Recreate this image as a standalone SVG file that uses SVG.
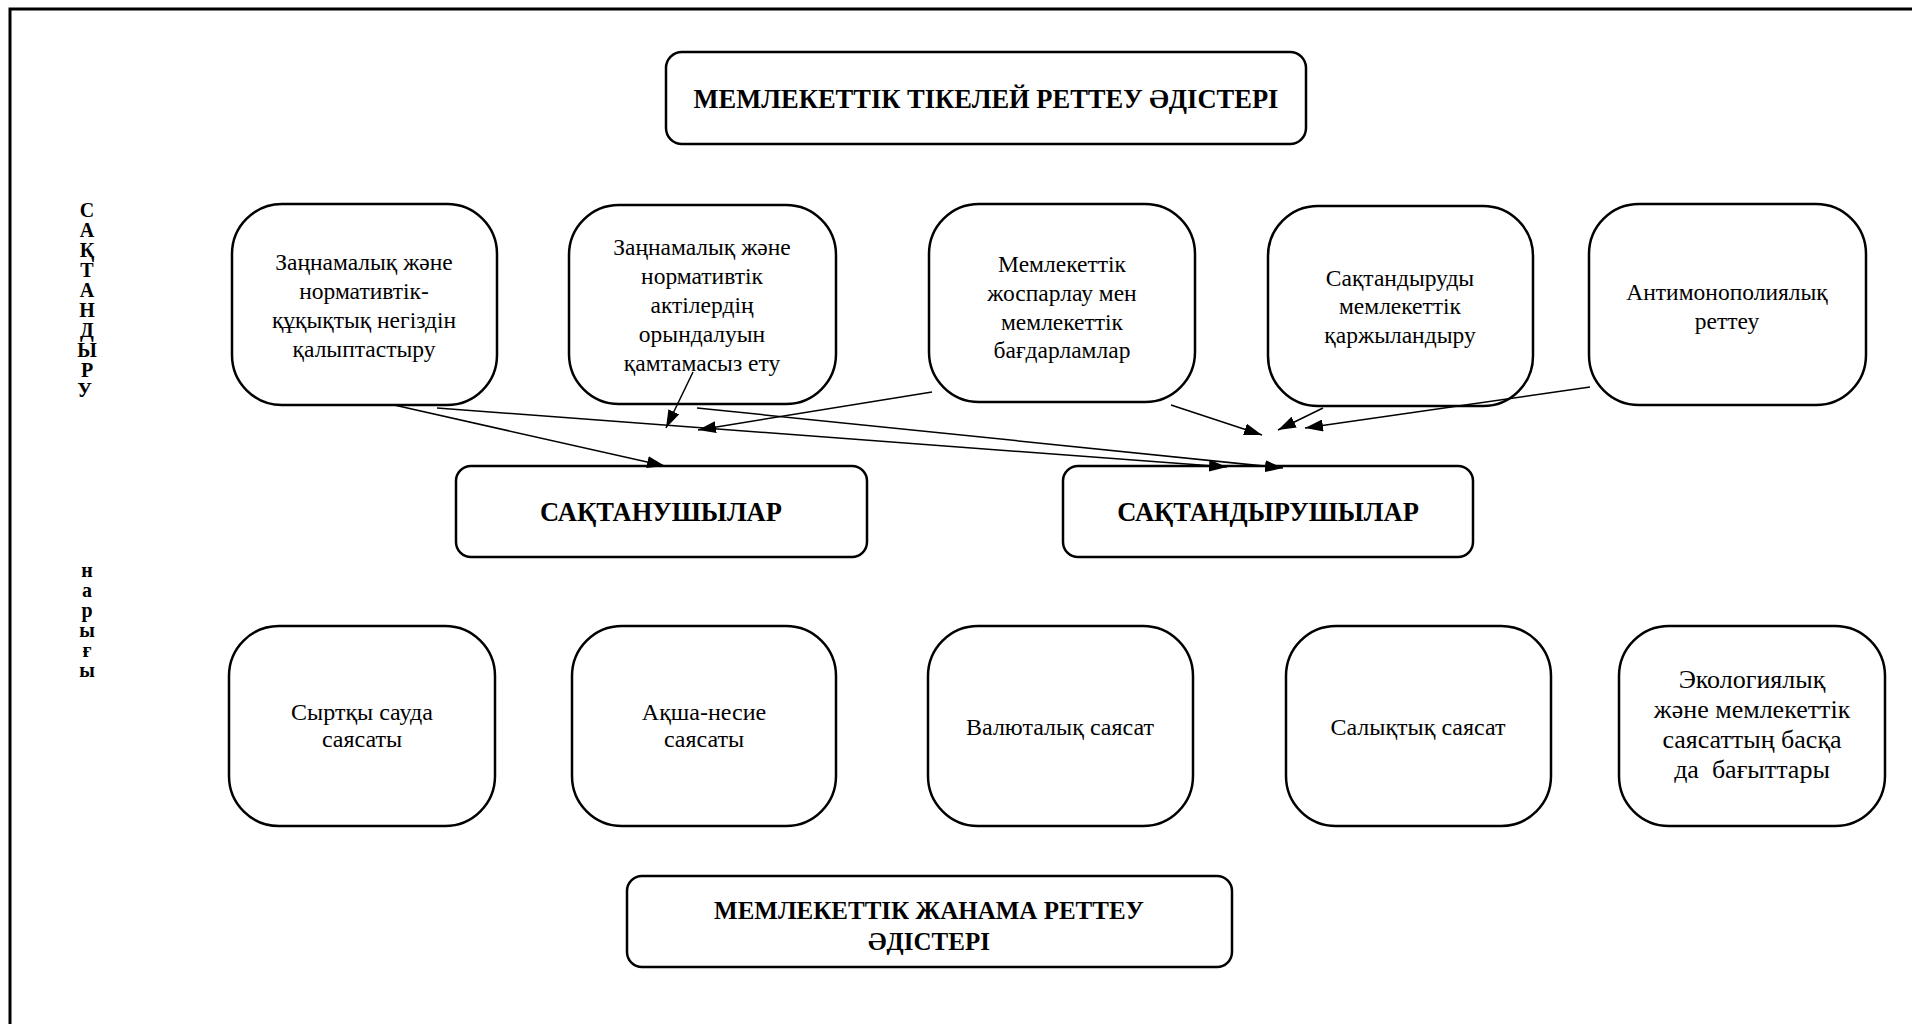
<svg xmlns="http://www.w3.org/2000/svg" width="1912" height="1024" viewBox="0 0 1912 1024">
<defs>
<style>
.box{fill:#fff;stroke:#000;stroke-width:2.5}
.t{font-family:"Liberation Serif","Times New Roman",serif;font-size:23.5px;text-anchor:middle;fill:#000}
.t3{font-family:"Liberation Serif","Times New Roman",serif;font-size:24px;text-anchor:middle;fill:#000}
.t5{font-family:"Liberation Serif","Times New Roman",serif;font-size:26px;text-anchor:middle;fill:#000}
.b{font-family:"Liberation Serif","Times New Roman",serif;font-size:26.5px;font-weight:bold;text-anchor:middle;fill:#000}
.b2{font-family:"Liberation Serif","Times New Roman",serif;font-size:25px;font-weight:bold;text-anchor:middle;fill:#000}
.v{font-family:"Liberation Serif","Times New Roman",serif;font-size:20px;font-weight:bold;text-anchor:middle;fill:#000}
.c{stroke:#000;stroke-width:1.5;fill:none;marker-end:url(#ah)}
</style>
<marker id="ah" viewBox="0 0 18 12" refX="18" refY="6" markerWidth="18" markerHeight="12" markerUnits="userSpaceOnUse" orient="auto"><path d="M0,0 L18,6 L0,12 z" fill="#000"/></marker>
</defs>
<rect x="0" y="0" width="1912" height="1024" fill="#fff"/>
<path d="M10,1024 V9 H1912" fill="none" stroke="#000" stroke-width="3"/>

<g id="side-label">
<text class="v">
<tspan x="87" y="217">С</tspan><tspan x="87" y="237">А</tspan><tspan x="87" y="257">Қ</tspan><tspan x="87" y="277">Т</tspan><tspan x="87" y="297">А</tspan><tspan x="87" y="317">Н</tspan><tspan x="87" y="337">Д</tspan><tspan x="87" y="357">Ы</tspan><tspan x="87" y="377">Р</tspan><tspan x="87" y="397">У</tspan>
<tspan x="87" y="577">н</tspan><tspan x="87" y="597">а</tspan><tspan x="87" y="617">р</tspan><tspan x="87" y="637">ы</tspan><tspan x="87" y="657">ғ</tspan><tspan x="87" y="677">ы</tspan>
</text>
</g>

<g id="direct">
<rect class="box" x="666" y="52" width="640" height="92" rx="16"/>
<text class="b" x="986" y="108">МЕМЛЕКЕТТІК ТІКЕЛЕЙ РЕТТЕУ ӘДІСТЕРІ</text>
</g>

<g id="d1">
<rect class="box" x="232" y="204" width="265" height="201" rx="50"/>
<text class="t"><tspan x="364" y="270">Заңнамалық және</tspan><tspan x="364" y="299">нормативтік-</tspan><tspan x="364" y="328">құқықтық негіздін</tspan><tspan x="364" y="357">қалыптастыру</tspan></text>
</g>
<g id="d2">
<rect class="box" x="569" y="205" width="267" height="199" rx="50"/>
<text class="t"><tspan x="702" y="255">Заңнамалық және</tspan><tspan x="702" y="284">нормативтік</tspan><tspan x="702" y="313">актілердің</tspan><tspan x="702" y="342">орындалуын</tspan><tspan x="702" y="371">қамтамасыз ету</tspan></text>
</g>
<g id="d3">
<rect class="box" x="929" y="204" width="266" height="198" rx="50"/>
<text class="t"><tspan x="1062" y="272">Мемлекеттік</tspan><tspan x="1062" y="301">жоспарлау мен</tspan><tspan x="1062" y="330">мемлекеттік</tspan><tspan x="1062" y="358">бағдарламлар</tspan></text>
</g>
<g id="d4">
<rect class="box" x="1268" y="206" width="265" height="200" rx="50"/>
<text class="t"><tspan x="1400" y="286">Сақтандыруды</tspan><tspan x="1400" y="314">мемлекеттік</tspan><tspan x="1400" y="343">қаржыландыру</tspan></text>
</g>
<g id="d5">
<rect class="box" x="1589" y="204" width="277" height="201" rx="50"/>
<text class="t"><tspan x="1727" y="300">Антимонополиялық</tspan><tspan x="1727" y="329">реттеу</tspan></text>
</g>

<g id="insured">
<rect class="box" x="456" y="466" width="411" height="91" rx="15"/>
<text class="b" x="661" y="521">САҚТАНУШЫЛАР</text>
</g>
<g id="insurers">
<rect class="box" x="1063" y="466" width="410" height="91" rx="15"/>
<text class="b" x="1268" y="521">САҚТАНДЫРУШЫЛАР</text>
</g>

<g id="i1">
<rect class="box" x="229" y="626" width="266" height="200" rx="50"/>
<text class="t3"><tspan x="362" y="720">Сыртқы сауда</tspan><tspan x="362" y="747">саясаты</tspan></text>
</g>
<g id="i2">
<rect class="box" x="572" y="626" width="264" height="200" rx="50"/>
<text class="t3"><tspan x="704" y="720">Ақша-несие</tspan><tspan x="704" y="747">саясаты</tspan></text>
</g>
<g id="i3">
<rect class="box" x="928" y="626" width="265" height="200" rx="50"/>
<text class="t3" x="1060" y="735">Валюталық саясат</text>
</g>
<g id="i4">
<rect class="box" x="1286" y="626" width="265" height="200" rx="50"/>
<text class="t3" x="1418" y="735">Салықтық саясат</text>
</g>
<g id="i5">
<rect class="box" x="1619" y="626" width="266" height="200" rx="50"/>
<text class="t5"><tspan x="1752" y="688">Экологиялық</tspan><tspan x="1752" y="718">және мемлекеттік</tspan><tspan x="1752" y="748">саясаттың басқа</tspan><tspan x="1752" y="778" xml:space="preserve">да  бағыттары</tspan></text>
</g>

<g id="indirect">
<rect class="box" x="627" y="876" width="605" height="91" rx="15"/>
<text class="b2"><tspan x="929" y="919">МЕМЛЕКЕТТІК ЖАНАМА РЕТТЕУ</tspan><tspan x="929" y="950">ӘДІСТЕРІ</tspan></text>
</g>

<g id="connectors">
<line class="c" x1="394" y1="405" x2="665" y2="466"/>
<line class="c" x1="437" y1="408" x2="1227" y2="467"/>
<line class="c" x1="697" y1="408" x2="1283" y2="468"/>
<line class="c" x1="693" y1="372" x2="666" y2="428"/>
<line class="c" x1="932" y1="392" x2="698" y2="430"/>
<line class="c" x1="1171" y1="405" x2="1262" y2="435"/>
<line class="c" x1="1323" y1="408" x2="1278" y2="430"/>
<line class="c" x1="1590" y1="387" x2="1305" y2="428"/>
</g>
</svg>
